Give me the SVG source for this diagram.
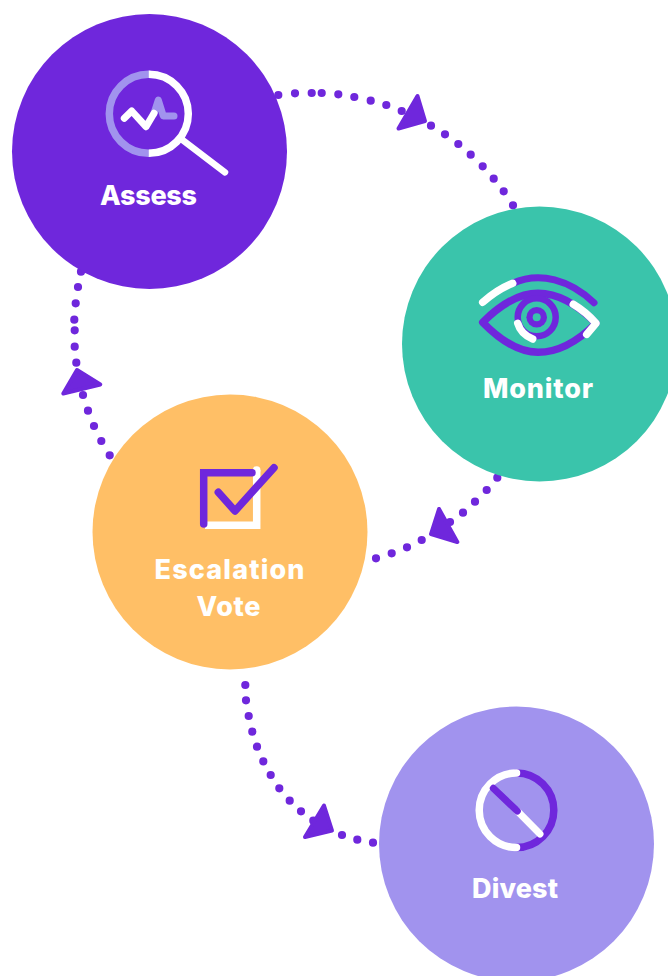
<svg xmlns="http://www.w3.org/2000/svg" width="668" height="976" viewBox="0 0 668 976">
<style>
.lbl{font-family:"Inter","Liberation Sans",sans-serif;font-weight:800;font-size:27px;fill:#fff;text-anchor:middle}
.dots{fill:none;stroke:#6F27DC;stroke-width:8.2;stroke-linecap:round}
.head{fill:#6F27DC;stroke:#6F27DC;stroke-width:4;stroke-linejoin:round}
.i{fill:none;stroke-linecap:round;stroke-linejoin:round}
.p{stroke:#6F27DC}.w{stroke:#fff}.l{stroke:#A193EE}
</style>
<rect width="668" height="976" fill="#fff"/>
<g id="connectors">
<g id="assess-monitor">
<path class="dots" d="M278.300 95h0M295 93.300h0M311.700 93h0M321.700 93h0M338.300 94.300h0M354.300 97h0M370.700 100.700h0M386.300 105h0M401.700 111h0M431 125.700h0M445 134.300h0M458.300 144h0M470.700 154.700h0M482.700 166.300h0M493.700 178.700h0M503.700 191.300h0M513 205.300h0"/>
<polygon class="head" points="417.500,96 425,121 398.500,128.500"/>
</g>
<g id="monitor-escalation">
<path class="dots" d="M497.300 477.700h0M486.700 490h0M475 501.700h0M463 512.700h0M450 522h0M421.700 540h0M407 547.300h0M391.700 553.300h0M376 558.300h0"/>
<polygon class="head" points="439,509 457.300,542 431,534"/>
</g>
<g id="escalation-assess">
<path class="dots" d="M81 271.700h0M78 287h0M75.700 303.300h0M74.300 319.700h0M74.700 330.300h0M74.700 346.700h0M76.300 362.700h0M83 395h0M88 410.700h0M94 426h0M101.300 441h0M109.700 455.300h0"/>
<polygon class="head" points="77,370 100.300,384.500 63.300,393.500"/>
</g>
<g id="escalation-divest">
<path class="dots" d="M245.300 685h0M246 700.300h0M248.700 716h0M252.300 731.700h0M257 746.700h0M263.300 761.300h0M270.700 775h0M279.300 788.300h0M289.700 800.700h0M301 811.300h0M313.300 820.700h0M342 835h0M357.300 839.700h0M373 842.700h0"/>
<polygon class="head" points="324,805.500 332,830.500 305,837"/>
</g>
</g>
<g id="assess">
<circle cx="149.500" cy="151.500" r="137.500" fill="#6F27DC"/>
<path class="i l" stroke-width="7.500" d="M148.800 74.300A39.500 39.500 0 0 0 148.800 153.300"/>
<path class="i w" stroke-width="7.500" d="M148.800 74.300A39.500 39.500 0 0 1 148.800 153.300" style="stroke-linecap:butt"/>
<path class="i w" stroke-width="6.500" d="M181.700 139.300L225 172.300"/>
<path class="i l" stroke-width="7" d="M154 113.300L158.300 100L163.300 116H174"/>
<path class="i w" stroke-width="7" d="M124.300 118.300L131.700 111L146 126.700L154 113.300"/>
<text class="lbl" x="148.500" y="205" textLength="97" lengthAdjust="spacing">Assess</text>
</g>
<g id="monitor">
<circle cx="539.500" cy="344" r="137.500" fill="#3AC4AB"/>
<path class="i p" stroke-width="7.500" d="M482.700 322.300C500 305 518 293.300 538 293.300C558 293.300 578 305 596 323.300C578 341 558 352.300 538 352.300C518 352.300 500 340 482.700 322.300Z"/>
<path class="i p" stroke-width="7" d="M512.700 283.300C540 271 570 280 594 302.700"/>
<path class="i w" stroke-width="7.500" d="M482.700 302.300C491 295 501 288 512.700 283.300"/>
<path class="i w" stroke-width="7.500" d="M573.300 304.300C582 309.500 590 316.500 596 323.300L586.700 334.300"/>
<circle class="i p" stroke-width="6.500" cx="536.700" cy="317.300" r="19"/>
<path class="i w" stroke-width="7.500" d="M517.700 323.300C520 331 525 336 532.700 339"/>
<circle cx="536.700" cy="317.300" r="10.300" fill="#6F27DC"/>
<circle cx="536.700" cy="317.300" r="4" fill="#3AC4AB"/>
<text class="lbl" x="538" y="398" textLength="110" lengthAdjust="spacing">Monitor</text>
</g>
<g id="escalation-vote">
<circle cx="230" cy="532" r="137.500" fill="#FFBF66"/>
<path d="M256.700 470V525.300H205" fill="none" stroke="#fff" stroke-width="7.500"/>
<circle cx="256.700" cy="470" r="3.750" fill="#fff"/>
<path class="i p" stroke-width="7.500" d="M203.700 524V472.700H252" style="stroke-linejoin:miter"/>
<path class="i p" stroke-width="7.500" d="M218.300 492.300L235 511L274 467.700"/>
<text class="lbl" x="229.500" y="579" textLength="150" lengthAdjust="spacing">Escalation</text>
<text class="lbl" x="228.500" y="616" textLength="64" lengthAdjust="spacing">Vote</text>
</g>
<g id="divest">
<circle cx="516.500" cy="844" r="137.500" fill="#A193EE"/>
<path class="i p" stroke-width="7.500" d="M516.500 773A37.300 37.300 0 0 1 516.500 847.600"/>
<path class="i w" stroke-width="7.500" d="M516.500 773A37.300 37.300 0 0 0 516.500 847.600"/>
<path class="i w" stroke-width="7" d="M517.300 811L540 834"/>
<path class="i p" stroke-width="7" d="M493.300 788.300L517.300 811"/>
<text class="lbl" x="515" y="898" textLength="86" lengthAdjust="spacing">Divest</text>
</g>
</svg>
